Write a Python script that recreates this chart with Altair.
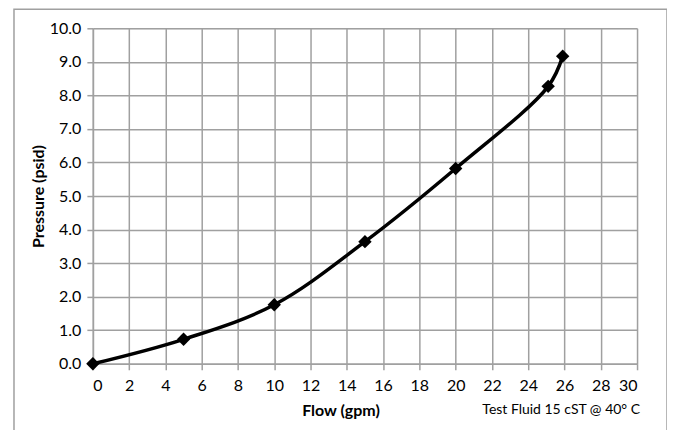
import altair as alt
import pandas as pd

flow = [0, 5, 10, 15, 20, 25.1, 25.9]
pressure = [0.0, 0.73, 1.76, 3.64, 5.82, 8.27, 9.17]
x_ticks = [0, 2, 4, 6, 8, 10, 12, 14, 16, 18, 20, 22, 24, 26, 28, 30]
y_ticks = [0, 1, 2, 3, 4, 5, 6, 7, 8, 9, 10]

df = pd.DataFrame({"flow": flow, "pressure": pressure})

FONT = "Lato"
GRID = "#a0a0a0"

common = dict(grid=True, gridColor=GRID, gridOpacity=1, gridWidth=1.5,
              domainColor=GRID, domainWidth=1.5, domainOpacity=1,
              tickColor=GRID, tickWidth=1.5, tickSize=6, tickOpacity=1,
              labelOverlap=False, labelFont=FONT, titleFont=FONT,
              labelColor="black", titleColor="black", labelFontSize=16,
              titleFontSize=16, titleFontWeight="bold")

x_enc = alt.X("flow:Q", scale=alt.Scale(domain=[0, 30], nice=False),
              axis=alt.Axis(values=x_ticks, tickCount=40, title="Flow (gpm)",
                            titleX=248, titleY=47, titleBaseline="middle",
                            labelPadding=8, **common))
y_enc = alt.Y("pressure:Q", scale=alt.Scale(domain=[0, 10], nice=False),
              axis=alt.Axis(values=y_ticks, tickCount=40, format=".1f",
                            title="Pressure (psid)", titlePadding=3,
                            labelPadding=6, **common))

line = alt.Chart(df).mark_line(color="black", strokeWidth=3.5,
                               interpolate="catmull-rom").encode(x=x_enc, y=y_enc)
pts = alt.Chart(df).mark_point(shape="diamond", filled=True, color="black",
                               size=180, opacity=1).encode(x=x_enc, y=y_enc)

note = alt.Chart(pd.DataFrame({"t": ["Test Fluid 15 cST @ 40° C"]})).mark_text(
    align="right", baseline="middle", fontSize=14, font=FONT, color="black"
).encode(x=alt.value(548), y=alt.value(382), text="t:N")

border = alt.Chart(pd.DataFrame({"a": [0]})).mark_rect(
    fill=None, stroke=GRID, strokeWidth=1.5
).encode(x=alt.value(-79), x2=alt.value(575), y=alt.value(-19), y2=alt.value(430))

chart = alt.layer(line, pts, note, border).properties(
    width=545, height=336,
    autosize=alt.AutoSizeParams(type="none"),
    padding={"left": 85, "top": 20, "right": 30, "bottom": 80},
).configure_view(stroke=GRID, strokeWidth=1.5).configure(background="white")

chart.save("out.html", embed_options={"renderer": "svg", "actions": False})
